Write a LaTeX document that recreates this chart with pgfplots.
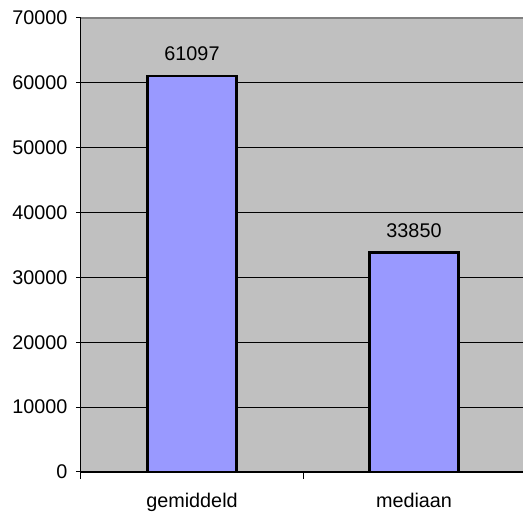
\documentclass[border=0pt]{standalone}
\usepackage{pgfplots}
\pgfplotsset{compat=1.18}
\usepackage{fontspec}
\setmainfont{Liberation Sans}
\usetikzlibrary{calc}
\definecolor{bg}{HTML}{C0C0C0}
\definecolor{barc}{HTML}{9999FF}
\definecolor{topline}{HTML}{808080}
\begin{document}
\begin{tikzpicture}[font=\fontsize{19.8}{24}\selectfont]
\begin{axis}[
  scale only axis, width=444pt, height=454pt,
  xmin=-0.5, xmax=1.5, ymin=0, ymax=70000,
  axis x line*=bottom, axis y line*=left,
  axis line style={black, line width=1pt},
  axis background/.style={fill=bg},
  clip=false,
  ytick={0,10000,...,70000},
  xtick={0,1}, xticklabels={gemiddeld,mediaan},
  minor xtick={-0.5,0.5,1.5},
  major x tick style={draw=none},
  tick align=outside,
  major tick length=5pt, minor tick length=7pt,
  tick style={black, line width=1pt},
  ymajorgrids, grid style={black, line width=0.8pt},
  /pgf/number format/assume math mode=true,
  scaled y ticks=false,
  yticklabel style={/pgf/number format/1000 sep={}, xshift=-5pt},
  xticklabel style={yshift=-13pt},
  ybar, bar width=89pt,
  nodes near coords,
  every node near coord/.append style={anchor=south, inner sep=0pt, yshift=14pt, black, /pgf/number format/1000 sep={}},
]
\addplot[fill=barc, draw=black, line width=2.2pt] coordinates {(0,61097) (1,33850)};
\draw[topline, line width=2.5pt] (rel axis cs:0,1) -- (rel axis cs:1,1);
\end{axis}
\pgfresetboundingbox
\path[use as bounding box] ($(current axis.south west)+(-81pt,-51pt)$) rectangle ($(current axis.north east)+(-2pt,18pt)$);
\end{tikzpicture}
\end{document}
